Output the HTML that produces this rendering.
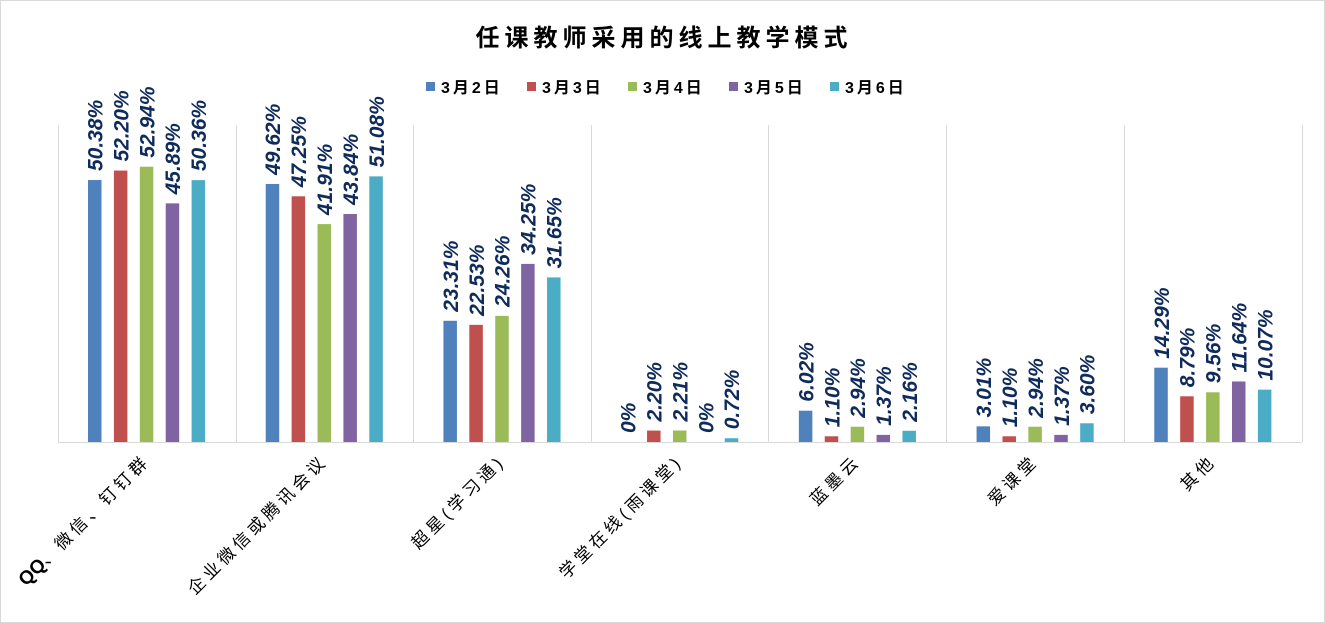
<!DOCTYPE html>
<html><head><meta charset="utf-8"><style>
html,body{margin:0;padding:0;background:#fff}
svg{display:block}
text{font-family:"Liberation Sans","Noto Sans CJK SC",sans-serif}
</style></head><body>
<svg width="1325" height="623" viewBox="0 0 1325 623" xmlns="http://www.w3.org/2000/svg">
<rect x="0.5" y="0.5" width="1324" height="622" fill="#fff" stroke="#d9d9d9"/>
<text x="664" y="46" text-anchor="middle" font-size="24" font-weight="bold" fill="#000" font-family="'Noto Serif CJK SC','Noto Sans CJK SC',serif" letter-spacing="5">任课教师采用的线上教学模式</text>
<g font-size="16" font-weight="bold" fill="#000" letter-spacing="3">
<rect x="426" y="82" width="9" height="9" fill="#4f81bd"/><text x="441" y="93">3月2日</text>
<rect x="527" y="82" width="9" height="9" fill="#c0504d"/><text x="542" y="93">3月3日</text>
<rect x="628" y="82" width="9" height="9" fill="#9bbb59"/><text x="643" y="93">3月4日</text>
<rect x="729" y="82" width="9" height="9" fill="#8064a2"/><text x="744" y="93">3月5日</text>
<rect x="830" y="82" width="9" height="9" fill="#4bacc6"/><text x="845" y="93">3月6日</text>
</g>
<g stroke="#d9d9d9" stroke-width="1">
<line x1="58.5" y1="125" x2="58.5" y2="442"/>
<line x1="236.5" y1="125" x2="236.5" y2="442"/>
<line x1="413.5" y1="125" x2="413.5" y2="442"/>
<line x1="591.5" y1="125" x2="591.5" y2="442"/>
<line x1="768.5" y1="125" x2="768.5" y2="442"/>
<line x1="946.5" y1="125" x2="946.5" y2="442"/>
<line x1="1124.5" y1="125" x2="1124.5" y2="442"/>
<line x1="1302.5" y1="125" x2="1302.5" y2="442"/>
<line x1="58" y1="442.5" x2="1302" y2="442.5"/>
</g>
<g id="bars"></g>
<g id="labels" font-size="21" font-weight="bold" font-style="italic" fill="#0f2b5c"></g>
<g id="cats" font-size="17" fill="#000" letter-spacing="4" font-family="'Noto Serif CJK SC','Noto Sans CJK SC',serif"></g>
<script>
var data=[[50.38,52.20,52.94,45.89,50.36],[49.62,47.25,41.91,43.84,51.08],[23.31,22.53,24.26,34.25,31.65],[0,2.20,2.21,0,0.72],[6.02,1.10,2.94,1.37,2.16],[3.01,1.10,2.94,1.37,3.60],[14.29,8.79,9.56,11.64,10.07]];
var lbl=[["50.38%","52.20%","52.94%","45.89%","50.36%"],["49.62%","47.25%","41.91%","43.84%","51.08%"],["23.31%","22.53%","24.26%","34.25%","31.65%"],["0%","2.20%","2.21%","0%","0.72%"],["6.02%","1.10%","2.94%","1.37%","2.16%"],["3.01%","1.10%","2.94%","1.37%","3.60%"],["14.29%","8.79%","9.56%","11.64%","10.07%"]];
var cats=["、微信、钉钉群","企业微信或腾讯会议","超星(学习通)","学堂在线(雨课堂)","蓝墨云","爱课堂","其他"];
var col=["#4f81bd","#c0504d","#9bbb59","#8064a2","#4bacc6"];
var ns="http://www.w3.org/2000/svg",B=document.getElementById("bars"),L=document.getElementById("labels"),C=document.getElementById("cats");
var gw=(1302-58)/7;
for(var g=0;g<7;g++){var gx=58+g*gw;
for(var i=0;i<5;i++){var v=data[g][i],h=v*5.2,x=gx+30+i*25.9,y=442-h;
var r=document.createElementNS(ns,"rect");r.setAttribute("x",x);r.setAttribute("y",y);r.setAttribute("width",13.5);r.setAttribute("height",h);r.setAttribute("fill",col[i]);B.appendChild(r);
var t=document.createElementNS(ns,"text");var cx=x+7+7.5,cy=y-9;t.setAttribute("transform","translate("+cx+","+cy+") rotate(-90)");t.textContent=lbl[g][i];L.appendChild(t);}
var c=document.createElementNS(ns,"text");c.setAttribute("text-anchor","end");c.setAttribute("transform","translate("+(gx+gw/2+4)+",462) rotate(-45)");
if(g==0){var s=document.createElementNS(ns,"tspan");s.setAttribute("font-family","Liberation Sans");s.setAttribute("font-weight","bold");s.setAttribute("font-size","19");s.setAttribute("letter-spacing","0");s.textContent="QQ";c.appendChild(s);
var s2=document.createElementNS(ns,"tspan");s2.textContent=cats[0];c.appendChild(s2);}else c.textContent=cats[g];
C.appendChild(c);}
</script>
</svg>
</body></html>
